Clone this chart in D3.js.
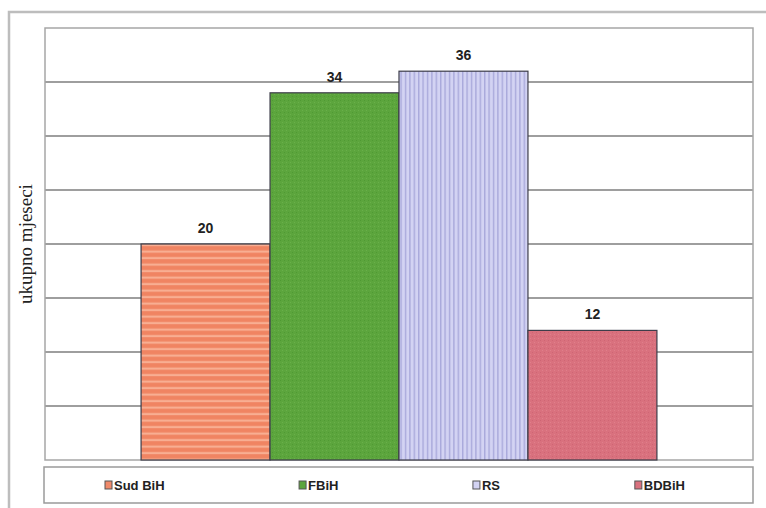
<!DOCTYPE html>
<html>
<head>
<meta charset="utf-8">
<script src="https://cdn.jsdelivr.net/npm/d3@7/dist/d3.min.js"></script>
<style>
  html, body { margin: 0; padding: 0; background: #ffffff; }
  svg { display: block; }
</style>
</head>
<body>
<script>
// Ukupno mjeseci po nadležnosti
const series = ["Sud BiH", "FBiH", "RS", "BDBiH"];
const values = [20, 34, 36, 12];
const yTicks = [0, 5, 10, 15, 20, 25, 30, 35, 40];
const yTitle = "ukupno mjeseci";

const W = 766, H = 508;
const plot = { left: 45, right: 753, top: 28, bottom: 460 };

const svg = d3.select("body").append("svg")
  .attr("width", W).attr("height", H);

const defs = svg.append("defs");

// Fill patterns for the four bars
const pSud = defs.append("pattern").attr("id", "p-sud")
  .attr("patternUnits", "userSpaceOnUse").attr("width", 8).attr("height", 6.5);
pSud.append("rect").attr("width", 8).attr("height", 6.5).attr("fill", "#f08462");
pSud.append("rect").attr("y", 3.5).attr("width", 8).attr("height", 2.2).attr("fill", "#f8ae92");

const pF = defs.append("pattern").attr("id", "p-fbih")
  .attr("patternUnits", "userSpaceOnUse").attr("width", 4).attr("height", 4);
pF.append("rect").attr("width", 4).attr("height", 4).attr("fill", "#5ca53d");
pF.append("rect").attr("width", 1).attr("height", 1).attr("fill", "#4f9a33");
pF.append("rect").attr("x", 2).attr("y", 2).attr("width", 1).attr("height", 1).attr("fill", "#69b04a");

const pRS = defs.append("pattern").attr("id", "p-rs")
  .attr("patternUnits", "userSpaceOnUse").attr("width", 4.4).attr("height", 4);
pRS.append("rect").attr("width", 4.4).attr("height", 4).attr("fill", "#d3d3f3");
pRS.append("rect").attr("x", 0).attr("width", 1.4).attr("height", 4).attr("fill", "#a9a9db");

const pBD = defs.append("pattern").attr("id", "p-bd")
  .attr("patternUnits", "userSpaceOnUse").attr("width", 4).attr("height", 4);
pBD.append("rect").attr("width", 4).attr("height", 4).attr("fill", "#d9717e");
pBD.append("rect").attr("width", 1).attr("height", 1).attr("fill", "#cf6574");
pBD.append("rect").attr("x", 2).attr("y", 2).attr("width", 1).attr("height", 1).attr("fill", "#e07f8b");

const fills = ["url(#p-sud)", "url(#p-fbih)", "url(#p-rs)", "url(#p-bd)"];
const swatch = ["#f08a6a", "#5ca53d", "#d3d3f3", "#d9717e"];

// Outer chart frame
svg.append("rect")
  .attr("x", 9).attr("y", 12).attr("width", 800).attr("height", 520)
  .attr("fill", "none").attr("stroke", "#bdbdbd").attr("stroke-width", 2.5);

// Scales
const y = d3.scaleLinear().domain([0, 40]).range([plot.bottom, plot.top]);
const x = d3.scaleBand().domain(series)
  .range([plot.left, plot.right])
  .paddingInner(0).paddingOuter(0.745);

// Horizontal gridlines
svg.append("g").selectAll("line")
  .data(yTicks.filter(t => t > 0 && t < 40))
  .join("line")
  .attr("x1", plot.left).attr("x2", plot.right)
  .attr("y1", d => y(d)).attr("y2", d => y(d))
  .attr("stroke", "#7e7e7e").attr("stroke-width", 1.3);

// Plot area border
svg.append("rect")
  .attr("x", plot.left).attr("y", plot.top)
  .attr("width", plot.right - plot.left).attr("height", plot.bottom - plot.top)
  .attr("fill", "none").attr("stroke", "#a6a6a6").attr("stroke-width", 1.5);

// Bars
svg.append("g").selectAll("rect")
  .data(series)
  .join("rect")
  .attr("x", d => x(d))
  .attr("width", x.bandwidth())
  .attr("y", (d, i) => y(values[i]))
  .attr("height", (d, i) => y(0) - y(values[i]))
  .attr("fill", (d, i) => fills[i])
  .attr("stroke", "#3d3d4a").attr("stroke-width", 1.2);

// Value labels
svg.append("g").selectAll("text")
  .data(series)
  .join("text")
  .attr("x", d => x(d) + x.bandwidth() / 2)
  .attr("y", (d, i) => y(values[i]) - 11)
  .attr("text-anchor", "middle")
  .attr("font-family", "'Liberation Sans', Arial, sans-serif")
  .attr("font-weight", "bold").attr("font-size", 14)
  .attr("fill", "#222")
  .text((d, i) => values[i]);

// Y-axis title
svg.append("text")
  .attr("transform", `translate(32, ${(plot.top + plot.bottom) / 2}) rotate(-90)`)
  .attr("text-anchor", "middle")
  .attr("font-family", "'Liberation Serif', 'Times New Roman', serif")
  .attr("font-size", 19).attr("fill", "#222")
  .text(yTitle);

// Legend
const leg = { top: 467, bottom: 503 };
svg.append("rect")
  .attr("x", plot.left - 1).attr("y", leg.top)
  .attr("width", plot.right - plot.left + 1).attr("height", leg.bottom - leg.top)
  .attr("fill", "#fff").attr("stroke", "#9a9a9a").attr("stroke-width", 1.5);

const legG = svg.append("g");
const items = legG.selectAll("g").data(series).join("g");
items.append("rect")
  .attr("width", 7).attr("height", 8)
  .attr("y", -9)
  .attr("fill", (d, i) => swatch[i])
  .attr("stroke", "#555").attr("stroke-width", 1);
items.append("text")
  .attr("x", 9)
  .attr("font-family", "'Liberation Sans', Arial, sans-serif")
  .attr("font-weight", "bold").attr("font-size", 13)
  .attr("fill", "#222")
  .text(d => d);

// Spread legend entries with equal gaps across the legend box
const widths = [];
items.each(function () { widths.push(this.getBBox().width); });
const marginL = 60, marginR = 68;
const gap = (plot.right - plot.left - marginL - marginR - d3.sum(widths)) / (series.length - 1);
let cx = plot.left + marginL;
items.attr("transform", (d, i) => {
  const t = `translate(${cx}, ${(leg.top + leg.bottom) / 2 + 5})`;
  cx += widths[i] + gap;
  return t;
});
</script>
</body>
</html>
